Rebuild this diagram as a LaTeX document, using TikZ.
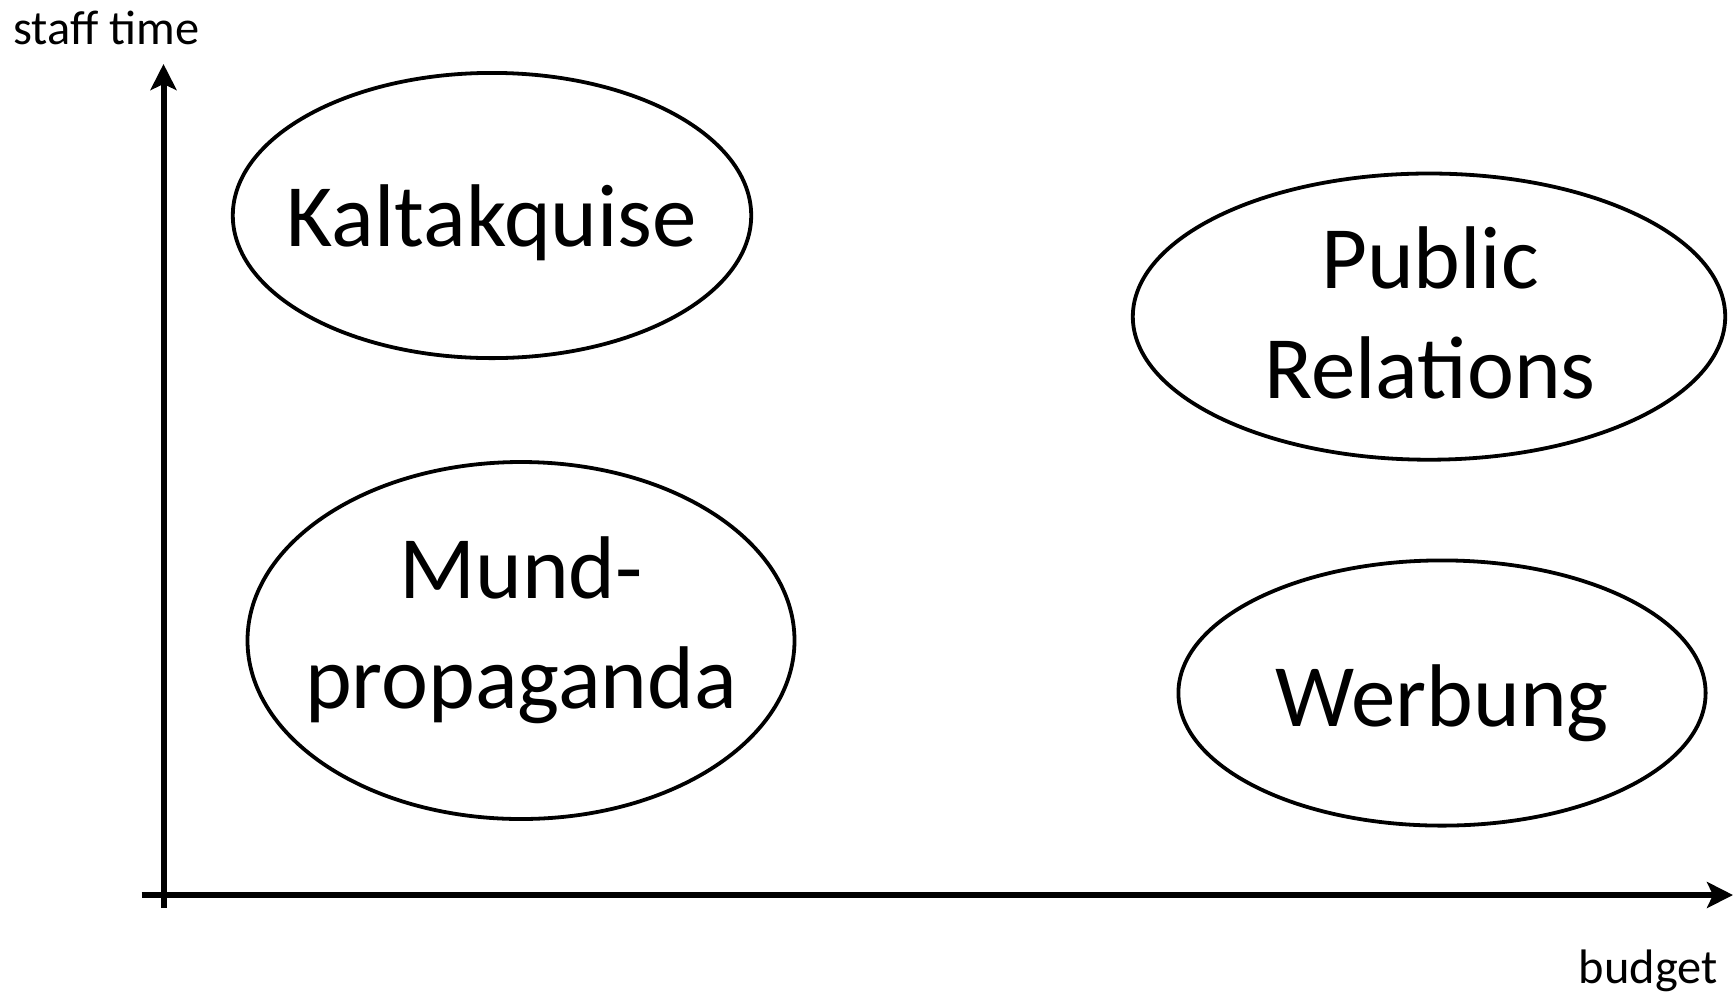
\documentclass[tikz,border=0pt]{standalone}
\usepackage{fontspec}
\setmainfont{Carlito}
\usetikzlibrary{arrows.meta,shapes.geometric}

\begin{document}
\begin{tikzpicture}[x=0.5pt,y=-0.5pt,
  axis/.style={line width=3pt,-{Stealth[length=13pt,width=13pt,inset=3pt]}},
  blob/.style={ellipse,draw,line width=1.9pt,inner sep=0pt},
  big/.style={font=\fontsize{44.5pt}{55pt}\selectfont,align=center,inner sep=0pt},
  small/.style={font=\fontsize{24.2pt}{29pt}\selectfont,inner sep=0pt}]
  % page frame
  \useasboundingbox (0,0) rectangle (1733,992);

  % axes
  \coordinate (ybot) at (163.5,908);
  \coordinate (ytop) at (163.5,64);
  \coordinate (xleft) at (141.5,895);
  \coordinate (xright) at (1733,895);
  \draw[axis] (ybot) -- (ytop);
  \draw[axis] (xleft) -- (xright);

  % axis titles
  \node[small,anchor=base west] (ylab) at (13,44) {staff time};
  \node[small,anchor=base east] (xlab) at (1718,983) {budget};

  % the four quadrants
  \node[blob,minimum width=259.2pt,minimum height=142.6pt] (kalt) at (492,215.5) {};
  \node[blob,minimum width=296.2pt,minimum height=143.1pt] (pr) at (1429,316.6) {};
  \node[blob,minimum width=273.5pt,minimum height=178.5pt] (mund) at (521,640.5) {};
  \node[blob,minimum width=263.6pt,minimum height=132.6pt] (werb) at (1442,693) {};

  \node[big,anchor=base] (kaltT) at (492,246) {Kaltakquise};
  \node[big] (prT) at (1430,313) {Public\\Relations};
  \node[big] (mundT) at (521,630) {Mund-\\propaganda};
  \node[big,anchor=base] (werbT) at (1442,726) {Werbung};
\end{tikzpicture}
\end{document}
